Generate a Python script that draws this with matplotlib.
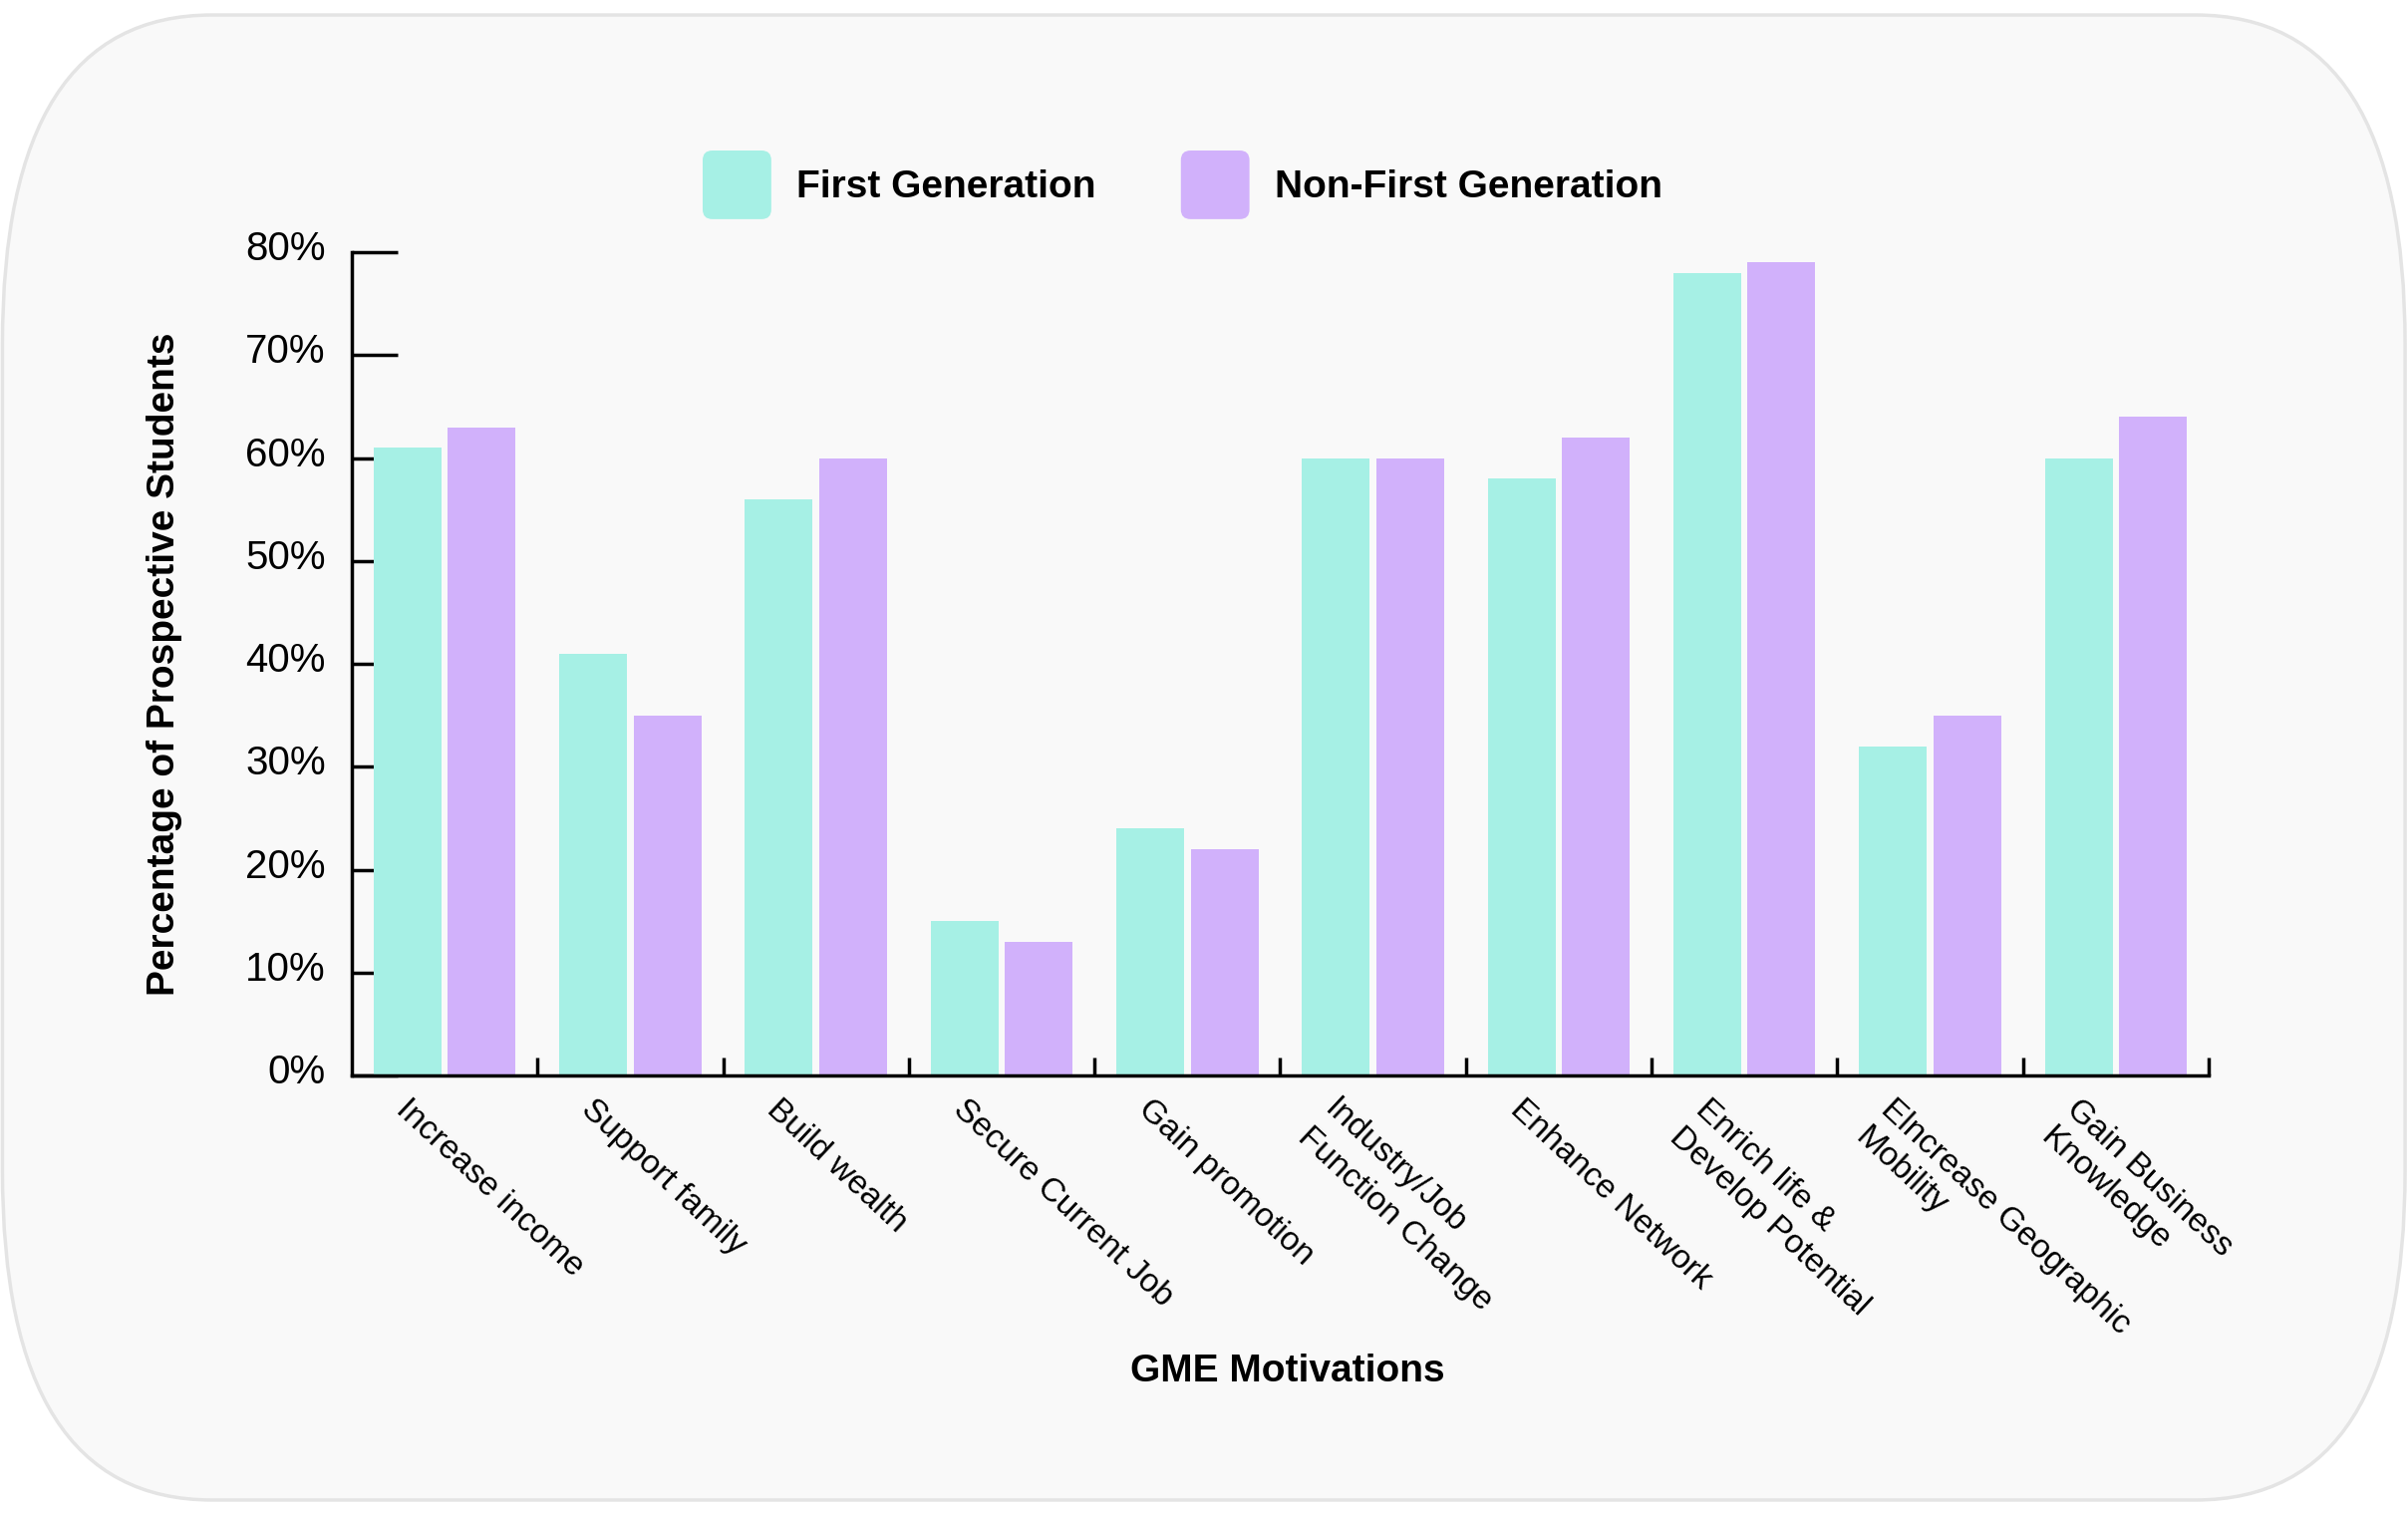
import matplotlib
matplotlib.use("Agg")
import matplotlib.pyplot as plt
import matplotlib.transforms as mtransforms
import numpy as np
from matplotlib.patches import FancyBboxPatch, Patch
from matplotlib.legend_handler import HandlerPatch

plt.rcParams['font.family'] = ['Liberation Sans', 'DejaVu Sans']

motivations = [
    "Increase income",
    "Support family",
    "Build wealth",
    "Secure Current Job",
    "Gain promotion",
    "Industry/Job\nFunction Change",
    "Enhance Network",
    "Enrich life &\nDevelop Potential",
    "Elncrease Geographic\nMobility",
    "Gain Business\nKnowledge",
]
first_gen = [61, 41, 56, 15, 24, 60, 58, 78, 32, 60]
non_first_gen = [63, 35, 60, 13, 22, 60, 62, 79, 35, 64]
y_ticks = [0, 10, 20, 30, 40, 50, 60, 70, 80]
series_labels = ["First Generation", "Non-First Generation"]
series_colors = ["#a6f0e5", "#d1b1fb"]

fig = plt.figure(figsize=(24.16, 15.2), dpi=100)
fig.patch.set_facecolor("white")

# rounded card behind everything (elliptical corners)
card = FancyBboxPatch((0.001, 0.0099), 0.9978, 0.9802,
                      boxstyle="round,pad=0,rounding_size=0.087",
                      mutation_aspect=2.5, transform=fig.transFigure,
                      facecolor="#f9f9f9", edgecolor="#e4e4e4", linewidth=2.5,
                      zorder=-5)
fig.patches.append(card)

ax = fig.add_axes([0.1461, 0.2901, 0.7711, 0.5434])
ax.set_facecolor("none")
ax.set_axisbelow(True)

x = np.arange(len(motivations)) + 0.5
ax.bar(x - 0.2, first_gen, width=0.365, color=series_colors[0])
ax.bar(x + 0.2, non_first_gen, width=0.365, color=series_colors[1])

ax.set_xlim(0, len(motivations))
ax.set_ylim(0, 80)
for side in ["top", "right"]:
    ax.spines[side].set_visible(False)
for side in ["left", "bottom"]:
    ax.spines[side].set_linewidth(2.5)
    ax.spines[side].set_color("black")

ax.set_yticks(y_ticks, labels=[f"{v}%" for v in y_ticks])
ax.tick_params(axis="y", direction="in", length=33, width=2.5, pad=19, labelsize=29)
for lbl in ax.get_yticklabels():
    lbl.set_transform(lbl.get_transform() + mtransforms.ScaledTranslation(0, 0.07, fig.dpi_scale_trans))

# group separators as major ticks, names as minor ticks at group centres
ax.set_xticks(np.arange(1, len(motivations) + 1), labels=[""] * len(motivations))
ax.tick_params(axis="x", which="major", direction="in", length=13, width=2.5)
ax.set_xticks(x, labels=motivations, minor=True)
ax.tick_params(axis="x", which="minor", length=0, pad=13, labelsize=24)
for lbl in ax.get_xticklabels(minor=True):
    lbl.set_rotation(-43)
    lbl.set_ha("left")
    lbl.set_va("top")
    lbl.set_rotation_mode("anchor")
    lbl.set_linespacing(1.3)
    lbl.set_transform(lbl.get_transform() + mtransforms.ScaledTranslation(-0.34, 0, fig.dpi_scale_trans))

ax.set_ylabel("Percentage of Prospective Students", fontsize=28, fontweight="bold")
ax.yaxis.set_label_coords(-0.101, 0.5)
ax.yaxis.label.set_va("center")
ax.set_xlabel("GME Motivations", fontsize=28, fontweight="bold")
ax.xaxis.set_label_coords(0.504, -0.36)
ax.xaxis.label.set_va("center")


def round_box(legend, orig_handle, xdescent, ydescent, width, height, fontsize):
    side = width
    y0 = -ydescent + height / 2 - side / 2
    return FancyBboxPatch((-xdescent, y0), side, side,
                          boxstyle=f"round,pad=0,rounding_size={0.14 * side}")


handles = [Patch(facecolor=c, linewidth=0) for c in series_colors]
fig.legend(handles, series_labels, handler_map={Patch: HandlerPatch(patch_func=round_box)},
           loc="center", bbox_to_anchor=(0.491, 0.878), ncol=2, frameon=False,
           handlelength=1.77, handleheight=1.77, handletextpad=0.64, columnspacing=2.2,
           prop={"weight": "bold", "size": 28})

fig.savefig("out.png", dpi=100)
